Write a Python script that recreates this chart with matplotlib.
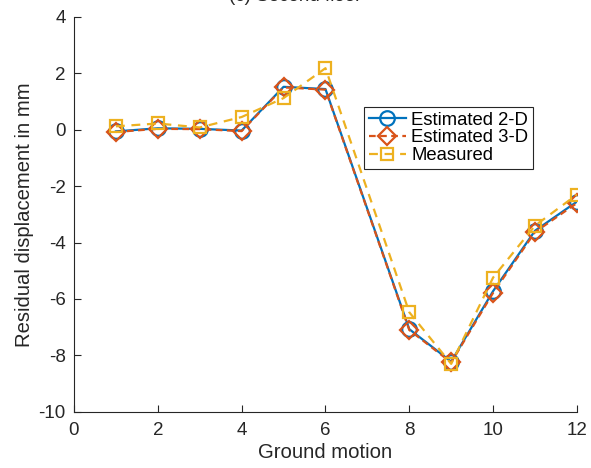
import matplotlib
matplotlib.use("Agg")
import matplotlib.pyplot as plt

plt.rcParams['font.family'] = ['Liberation Sans', 'DejaVu Sans']
plt.rcParams['axes.unicode_minus'] = False

ground_motion = [1, 2, 3, 4, 5, 6, 8, 9, 10, 11, 12]
estimated_2d = [-0.06, 0.05, 0.03, -0.03, 1.52, 1.44, -7.07, -8.22, -5.72, -3.58, -2.55]
estimated_3d = [-0.08, 0.03, 0.02, -0.05, 1.50, 1.42, -7.10, -8.25, -5.78, -3.63, -2.60]
measured = [0.12, 0.22, 0.08, 0.45, 1.12, 2.18, -6.47, -8.30, -5.24, -3.40, -2.30]

xticks = [0, 2, 4, 6, 8, 10, 12]
yticks = [-10, -8, -6, -4, -2, 0, 2, 4]

c_blue = '#0072BD'
c_orange = '#D95319'
c_yellow = '#EDB120'
txt = '#262626'

fig = plt.figure(figsize=(5.91, 4.68), dpi=100)
ax = fig.add_axes([0.1252, 0.12, 0.851, 0.844])

ax.plot(ground_motion, estimated_2d, '-', color=c_blue, lw=1.6, marker='o',
        ms=10.5, mfc='none', mew=1.6, label='Estimated 2-D')
ax.plot(ground_motion, estimated_3d, '--', color=c_orange, lw=1.6, marker='D',
        ms=9, mfc='none', mew=1.6, label='Estimated 3-D', dashes=(3, 2))
ax.plot(ground_motion, measured, '--', color=c_yellow, lw=1.6, marker='s',
        ms=9, mfc='none', mew=1.6, label='Measured', dashes=(4, 3))

ax.set_xlim(0, 12)
ax.set_ylim(-10, 4)
ax.set_xticks(xticks)
ax.set_yticks(yticks)
ax.tick_params(direction='in', length=5, width=0.8, labelsize=13.5, colors=txt,
               top=False, right=False)
ax.tick_params(axis='x', pad=7)
ax.tick_params(axis='y', pad=6)
for s in ['top', 'right']:
    ax.spines[s].set_visible(False)
for s in ['left', 'bottom']:
    ax.spines[s].set_color(txt)
    ax.spines[s].set_linewidth(0.8)

ax.set_xlabel('Ground motion', fontsize=14.6, color=txt, labelpad=3)
ax.set_ylabel('Residual displacement in mm', fontsize=14.6, color=txt, labelpad=3)

fig.text(0.50, 1.008, '(c) Second floor', ha='center', va='center', fontsize=13.5, color=txt)

leg = ax.legend(loc='upper right', bbox_to_anchor=(0.9125, 0.772), fontsize=13.3,
                frameon=True, fancybox=False, edgecolor=txt, framealpha=1,
                handlelength=2.0, handletextpad=0.3, labelspacing=0.05,
                borderpad=0.25, borderaxespad=0)
leg.get_frame().set_linewidth(0.8)

fig.savefig('out.png', dpi=100)
